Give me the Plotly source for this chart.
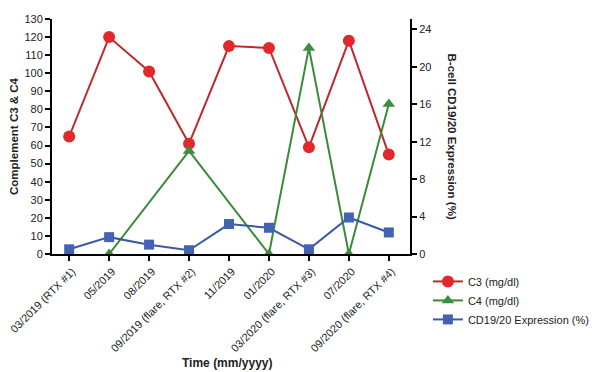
import plotly.graph_objects as go

categories = ["03/2019 (RTX #1)", "05/2019", "08/2019", "09/2019 (flare, RTX #2)", "11/2019",
              "01/2020", "03/2020 (flare, RTX #3)", "07/2020", "09/2020 (flare, RTX #4)"]
c3 = [65, 120, 101, 61, 115, 114, 59, 118, 55]
c4 = [None, 0, None, 57, None, 0, 114, 0, 83]
cd19 = [0.5, 1.8, 1.0, 0.4, 3.2, 2.8, 0.5, 3.9, 2.3]
left_ticks = list(range(0, 131, 10))
right_ticks = list(range(0, 25, 4))

FONT = "Liberation Sans"
fig = go.Figure()
fig.add_trace(go.Scatter(x=categories, y=c3, name="C3 (mg/dl)", mode="lines+markers",
                         line=dict(color="#c0282c", width=2),
                         marker=dict(symbol="circle", size=12, color="#e3282c")))
fig.add_trace(go.Scatter(x=categories, y=c4, name="C4 (mg/dl)", mode="lines+markers",
                         connectgaps=True,
                         line=dict(color="#3a8a3a", width=2),
                         marker=dict(symbol="triangle-up", size=11, color="#3c8d3c")))
fig.add_trace(go.Scatter(x=categories, y=cd19, name="CD19/20 Expression (%)", mode="lines+markers",
                         yaxis="y2",
                         line=dict(color="#3a5aa8", width=2),
                         marker=dict(symbol="square", size=10, color="#4262b4")))

axis_common = dict(showline=True, linecolor="black", linewidth=2, ticks="outside", ticklen=5,
                   tickwidth=1.5, tickcolor="black", showgrid=False, zeroline=False,
                   automargin=False)

fig.update_layout(
    width=600, height=372,
    margin=dict(l=44, r=198, t=11, b=126),
    paper_bgcolor="white", plot_bgcolor="white",
    font=dict(family=FONT, size=11, color="#222"),
    xaxis=dict(type="category", range=[-0.43, 8.53], tickangle=-45, tickfont=dict(size=10.9),
               ticklabelshift=3, **axis_common),
    yaxis=dict(range=[0, 130], tickvals=left_ticks, tickfont=dict(size=11),
               title=dict(text="<b>Complement C3 & C4</b>", font=dict(size=11.5), standoff=6),
               **axis_common),
    yaxis2=dict(range=[0, 25.1], tickvals=right_ticks, overlaying="y", side="right",
                tickfont=dict(size=11), **axis_common),
    legend=dict(x=1.05, y=-0.055, xanchor="left", yanchor="top", font=dict(size=11),
                bgcolor="rgba(0,0,0,0)"),
    annotations=[
        dict(text="<b>B-cell CD19/20 Expression (%)</b>", xref="paper", yref="paper",
             x=1.12, y=0.5, textangle=90, showarrow=False, font=dict(size=11.5),
             xanchor="center", yanchor="middle"),
        dict(text="<b>Time (mm/yyyy)</b>", xref="paper", yref="paper",
             x=0.49, y=-0.462, showarrow=False, font=dict(size=12),
             xanchor="center", yanchor="middle"),
    ],
)
fig.write_html("out.html")
